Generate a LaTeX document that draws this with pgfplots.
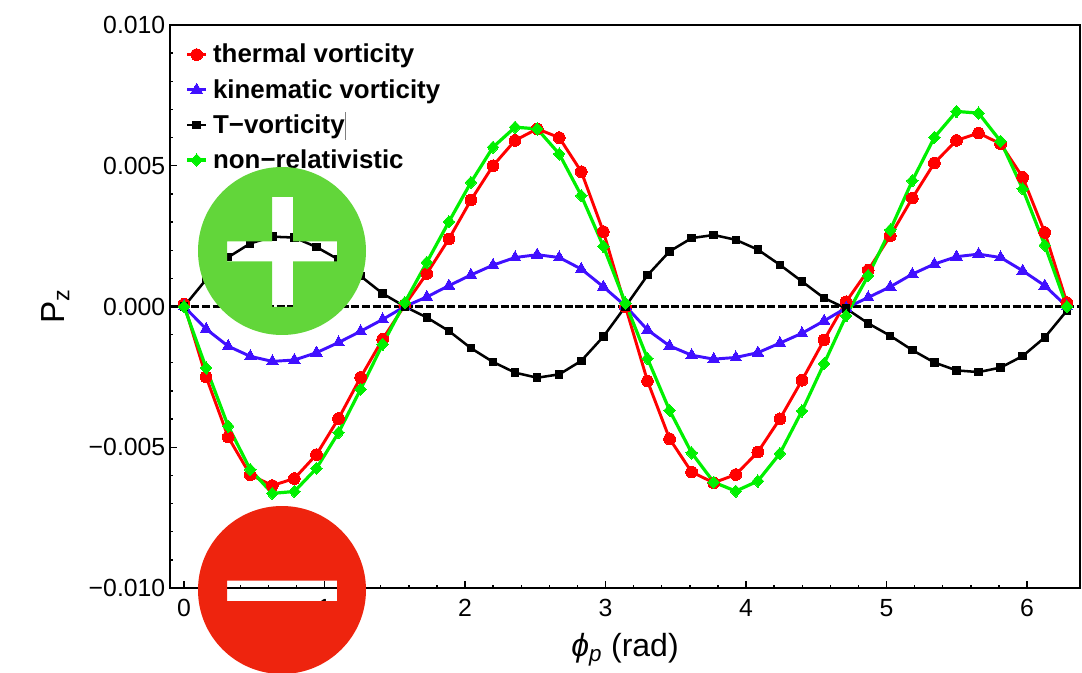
\documentclass[border=0pt]{standalone}
\usepackage{fontspec}
\setmainfont{Liberation Sans}
\usepackage{pgfplots}
\usepackage{pgfplotstable}
\pgfplotsset{compat=1.18}
\definecolor{cred}{RGB}{255,0,0}
\definecolor{cblue}{RGB}{64,16,255}
\definecolor{cgreen}{RGB}{0,240,0}
\definecolor{badgegreen}{RGB}{98,214,58}
\definecolor{badgered}{RGB}{238,36,14}
\pgfplotstableread{
x thermal kinematic tvort nonrel
0.0000 0.00008 0.00000 0.00000 0.00000
0.1571 -0.00250 -0.00080 0.00096 -0.00218
0.3142 -0.00464 -0.00141 0.00175 -0.00425
0.4712 -0.00598 -0.00177 0.00224 -0.00579
0.6283 -0.00636 -0.00195 0.00248 -0.00664
0.7854 -0.00611 -0.00190 0.00245 -0.00657
0.9425 -0.00526 -0.00164 0.00211 -0.00575
1.0996 -0.00398 -0.00128 0.00167 -0.00448
1.2566 -0.00252 -0.00088 0.00108 -0.00294
1.4137 -0.00116 -0.00046 0.00046 -0.00134
1.5708 0.00005 0.00000 0.00000 0.00014
1.7279 0.00117 0.00034 -0.00039 0.00157
1.8850 0.00240 0.00074 -0.00087 0.00301
2.0420 0.00378 0.00112 -0.00148 0.00441
2.1991 0.00500 0.00147 -0.00197 0.00566
2.3562 0.00590 0.00174 -0.00235 0.00637
2.5133 0.00631 0.00184 -0.00253 0.00631
2.6704 0.00600 0.00174 -0.00241 0.00542
2.8274 0.00479 0.00133 -0.00193 0.00394
2.9845 0.00266 0.00070 -0.00107 0.00214
3.1416 0.00000 0.00002 0.00000 0.00012
3.2987 -0.00265 -0.00083 0.00111 -0.00185
3.4558 -0.00470 -0.00140 0.00196 -0.00369
3.6128 -0.00588 -0.00173 0.00243 -0.00520
3.7699 -0.00626 -0.00187 0.00254 -0.00624
3.9270 -0.00597 -0.00181 0.00237 -0.00656
4.0841 -0.00517 -0.00164 0.00202 -0.00620
4.2412 -0.00399 -0.00130 0.00148 -0.00522
4.3982 -0.00262 -0.00095 0.00089 -0.00371
4.5553 -0.00119 -0.00051 0.00030 -0.00203
4.7124 0.00017 -0.00005 -0.00007 -0.00033
4.8695 0.00129 0.00032 -0.00060 0.00110
5.0265 0.00251 0.00070 -0.00104 0.00272
5.1836 0.00385 0.00115 -0.00155 0.00447
5.3407 0.00510 0.00151 -0.00199 0.00601
5.4978 0.00590 0.00177 -0.00227 0.00693
5.6549 0.00616 0.00186 -0.00233 0.00687
5.8119 0.00578 0.00174 -0.00217 0.00587
5.9690 0.00459 0.00127 -0.00176 0.00418
6.1261 0.00263 0.00074 -0.00110 0.00218
6.2832 0.00014 0.00000 -0.00015 0.00000
}\datatable
\begin{document}
\begin{tikzpicture}
\path[use as bounding box] (0,0) rectangle (811.5pt,504pt);
\begin{axis}[
  at={(127.5pt,63pt)}, anchor=south west,
  scale only axis, width=682.5pt, height=422.25pt,
  xmin=-0.1, xmax=6.377, ymin=-0.010, ymax=0.010,
  axis line style={line width=2pt},
  tick align=inside, tick pos=left,
  xtick={0,1,2,3,4,5,6}, xticklabels={0,1,2,3,4,5,6},
  ytick={-0.010,-0.005,0,0.005,0.010},
  yticklabels={−0.010,−0.005,0.000,0.005,0.010},
  scaled y ticks=false,
  minor x tick num=4, minor y tick num=4,
  major tick length=5pt, minor tick length=2.5pt,
  every tick/.append style={black,line width=1pt},
  tick label style={font=\fontsize{18.6}{20}\selectfont},
  xticklabel style={yshift=-5pt},
  xlabel={{\itshape ϕ}\textsubscript{\itshape p} (rad)},
  ylabel={P\textsubscript{z}},
  xlabel style={at={(axis description cs:0.5,-0.11)},anchor=center,font=\fontsize{24}{26}\selectfont},
  ylabel style={at={(axis description cs:-0.126,0.5)},anchor=center,font=\fontsize{25}{27}\selectfont},
  legend cell align=left,
  legend style={draw=none,fill=none,at={(axis cs:-0.1,0.0098)},anchor=north west,
    font=\bfseries\fontsize{19.4}{21}\selectfont,row sep=6.8pt,inner sep=2pt,xshift=9.5pt,yshift=-6pt,
    nodes={inner xsep=4pt}},
  legend image code/.code={\draw[mark repeat=2,mark phase=2,#1] plot coordinates {(0cm,0cm)(0.25cm,0cm)(0.5cm,0cm)};},
]
\addplot[forget plot,black,line width=1.6pt,dash pattern=on 6pt off 2pt] coordinates {(-0.1,0) (6.377,0)};
\addplot[cred,line width=2.2pt,mark=*,mark size=4.4pt,mark options={solid,fill=cred,draw=cred,line width=0pt}] table[x=x,y=thermal] {\datatable};
\addlegendentry{thermal vorticity}
\addplot[cblue,line width=2.2pt,mark=triangle*,mark size=5pt,mark options={fill=cblue,draw=cblue,line width=0pt}] table[x=x,y=kinematic] {\datatable};
\addlegendentry{kinematic vorticity}
\addplot[black,line width=1.9pt,mark=square*,mark size=2.8pt,mark options={fill=black,draw=black,line width=0pt}] table[x=x,y=tvort] {\datatable};
\addlegendentry{T−vorticity{\color{gray}\smash{\rule[-5pt]{1.4pt}{21pt}}}}
\addplot[cgreen,line width=2.4pt,mark=diamond*,mark size=4.6pt,mark options={xscale=1.25,fill=cgreen,draw=cgreen,line width=0pt}] table[x=x,y=nonrel] {\datatable};
\addlegendentry{non−relativistic}
\end{axis}
\begin{scope}
\clip (0,0) rectangle (811.5pt,504pt);
\begin{scope}[x=0.75pt,y=-0.75pt,shift={(0pt,504pt)}]
\fill[badgegreen,even odd rule] (282,251) circle[radius=63pt]
  (272,197) -- (293,197) -- (293,241.5) -- (337,241.5) -- (337,261.5) -- (293,261.5) -- (293,307) -- (272,307) -- (272,261.5) -- (227,261.5) -- (227,241.5) -- (272,241.5) -- cycle;
\fill[badgered,even odd rule] (282,590) circle[radius=63pt]
  (227,580.5) rectangle (337,601);
\end{scope}
\end{scope}
\end{tikzpicture}
\end{document}
